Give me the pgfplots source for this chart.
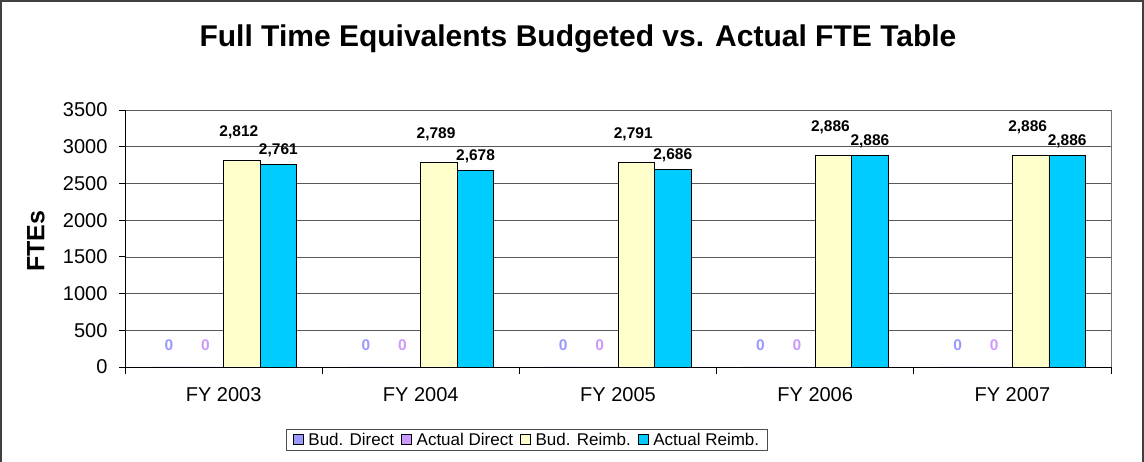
\documentclass[border=0pt]{standalone}
\usepackage{fontspec}
\setmainfont{Liberation Sans}
\usepackage{pgfplots}
\pgfplotsset{compat=1.18}
\definecolor{cBD}{HTML}{9999FF}
\definecolor{cAD}{HTML}{CC99FF}
\definecolor{cBR}{HTML}{FFFFCC}
\definecolor{cAR}{HTML}{00CCFF}
\begin{document}
\begin{tikzpicture}
\useasboundingbox (0pt,0pt) rectangle (1144pt,462pt);
\draw[black!75, line width=1.2pt] (1pt,-5pt) rectangle (1143pt,461pt);
\begin{axis}[
  at={(125pt,95pt)}, anchor=south west,
  scale only axis, width=986pt, height=257pt,
  xmin=-0.5, xmax=4.5, ymin=0, ymax=3500,
  ybar, bar width=36.5pt,
  axis x line*=bottom, axis y line*=left,
  axis line style={-, black, line width=0.8pt},
  tick pos=left, tick align=outside,
  xtick={0,1,2,3,4},
  xticklabels={FY 2003,FY 2004,FY 2005,FY 2006,FY 2007},
  major x tick style={draw=none},
  minor xtick={-0.5,0.5,1.5,2.5,3.5,4.5},
  minor tick length=7pt, major tick length=6pt,
  tick style={black, line width=0.8pt},
  ytick={0,500,...,3500},
  ymajorgrids, major grid style={black!65, line width=0.7pt},
  /pgf/number format/assume math mode=true,
  yticklabel style={/pgf/number format/1000 sep={}, xshift=-8pt},
  xticklabel style={yshift=-11pt},
  tick label style={font=\fontsize{20}{24}\selectfont},
  ylabel={FTEs},
  ylabel style={font=\bfseries\fontsize{25}{30}\selectfont, at={(axis description cs:-0.0903,0.49)}, anchor=center},
  title={Full Time Equivalents Budgeted vs. Actual FTE Table},
  title style={font=\bfseries\fontsize{30}{36}\selectfont, at={(axis description cs:0.4594,1.2218)}, anchor=base},
  legend columns=4,
  legend style={at={(0.4077,-0.284)}, anchor=center, draw=black!70, line width=0.8pt,
    font=\fontsize{17}{20}\selectfont, inner xsep=6pt, inner ysep=2pt,
    /tikz/every odd column/.append style={column sep=3pt},
    /tikz/every even column/.append style={column sep=5pt}},
  legend image code/.code={\draw[#1, draw=black, line width=0.6pt] (0pt,-4pt) rectangle (10pt,6pt);},
  after end axis/.code={\draw[black!55, line width=0.8pt] (rel axis cs:1,0) -- (rel axis cs:1,1);},
]
\addplot[fill=cBD, draw=none, bar shift=-54.75pt,
  nodes near coords={\pgfmathprintnumber[fixed,precision=0]{\pgfplotspointmeta}},
  every node near coord/.append style={anchor=center, yshift=22pt, text=cBD, font=\bfseries\fontsize{15.5}{18}\selectfont}]
  coordinates {(0,0) (1,0) (2,0) (3,0) (4,0)};
\addplot[fill=cAD, draw=none, bar shift=-18.25pt,
  nodes near coords={\pgfmathprintnumber[fixed,precision=0]{\pgfplotspointmeta}},
  every node near coord/.append style={anchor=center, yshift=22pt, text=cAD, font=\bfseries\fontsize{15.5}{18}\selectfont}]
  coordinates {(0,0) (1,0) (2,0) (3,0) (4,0)};
\addplot[fill=cBR, draw=black, line width=0.8pt, bar shift=18.25pt,
  nodes near coords={\pgfmathprintnumber[fixed,precision=0,1000 sep={,}]{\pgfplotspointmeta}},
  every node near coord/.append style={anchor=center, yshift=28pt, xshift=-3pt, text=black, font=\bfseries\fontsize{15.5}{18}\selectfont}]
  coordinates {(0,2812) (1,2789) (2,2791) (3,2886) (4,2886)};
\addplot[fill=cAR, draw=black, line width=0.8pt, bar shift=54.75pt,
  nodes near coords={\pgfmathprintnumber[fixed,precision=0,1000 sep={,}]{\pgfplotspointmeta}},
  every node near coord/.append style={anchor=center, yshift=14pt, text=black, font=\bfseries\fontsize{15.5}{18}\selectfont}]
  coordinates {(0,2761) (1,2678) (2,2686) (3,2886) (4,2886)};
\legend{Bud. Direct, Actual Direct, Bud. Reimb.\hspace{6pt}, Actual Reimb.\hspace{20pt}}
\end{axis}
\end{tikzpicture}
\end{document}
